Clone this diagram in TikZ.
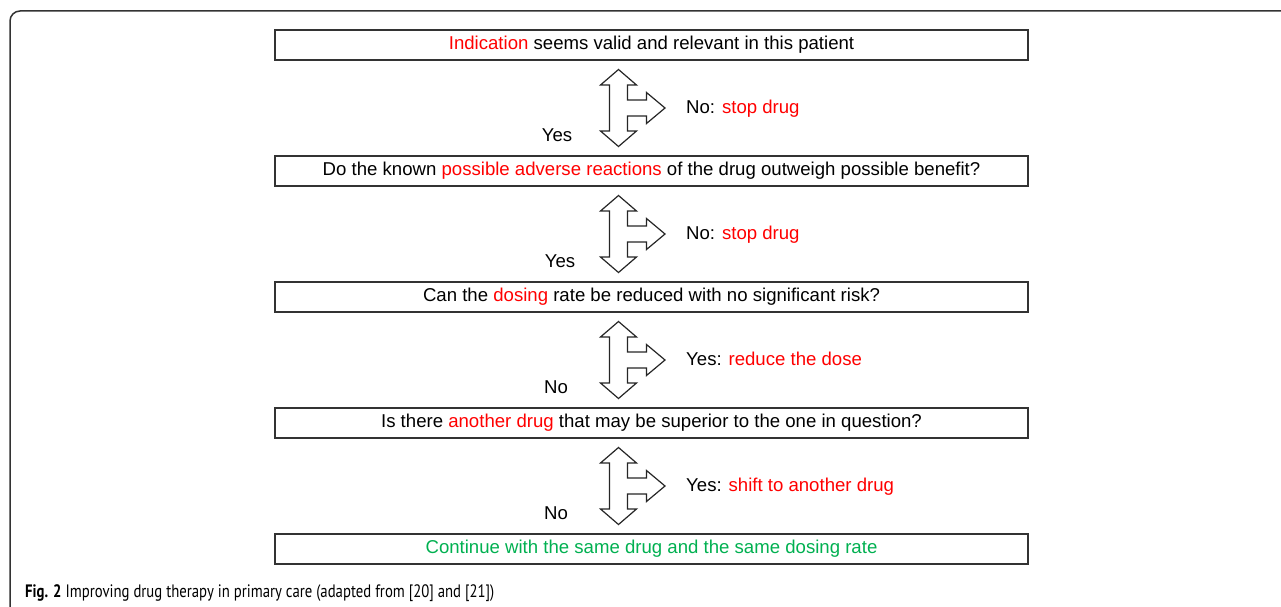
\documentclass[tikz,border=0pt]{standalone}
\usepackage{fontspec}
\setmainfont{Liberation Sans}
\newfontfamily\capfont[FakeStretch=0.82]{PT Sans}
\usetikzlibrary{calc}
\definecolor{alertred}{RGB}{255,0,0}
\definecolor{okgreen}{RGB}{0,176,80}

\begin{document}
\begin{tikzpicture}[x=1pt,y=-1pt,
  qbox/.style={draw=black!80,line width=1.3pt,minimum width=753pt,minimum height=30pt,inner sep=0pt,font=\fontsize{18.6}{22}\selectfont},
  lbl/.style={font=\fontsize{18.6}{22}\selectfont,inner sep=0pt},
  blockarrow/.style={draw=black!85,line width=1.2pt,fill=white,line join=miter}]
\useasboundingbox (0,0) rectangle (1281,607);

% outer frame
\draw[black!80,line width=1.5pt,rounded corners=10pt] (10,620) -- (10,11) -- (1290,11);

% question boxes
\node[qbox] (b1) at (651.5,45) {\textcolor{alertred}{Indication} seems valid and relevant in this patient};
\node[qbox] (b2) at (651.5,171) {Do the known \textcolor{alertred}{possible adverse reactions} of the drug outweigh possible benefit?};
\node[qbox] (b3) at (651.5,297) {Can the \textcolor{alertred}{dosing} rate be reduced with no significant risk?};
\node[qbox] (b4) at (651.5,423) {Is there \textcolor{alertred}{another drug} that may be superior to the one in question?};
\node[qbox] (b5) at (651.5,549) {\textcolor{okgreen}{Continue with the same drug and the same dosing rate}};

% three-way arrows between the boxes
\foreach \i/\j in {1/2,2/3,3/4,4/5} {
  \coordinate (a\i) at ($(b\i.south)!0.5!(b\j.north)+(-33,0)$);
  \draw[blockarrow,shift={(a\i)}] (0,-38.5) -- (18,-23) -- (9,-23) -- (9,-8) -- (28,-8) -- (28,-15.5)
    -- (46.5,0) -- (28,15.5) -- (28,8) -- (9,8) -- (9,23) -- (18,23) -- (0,38.5)
    -- (-18,23) -- (-9,23) -- (-9,-23) -- (-18,-23) -- cycle;
}

% answers
\node[lbl,anchor=base west] (r1) at ($(a1)+(67.5,5.5)$) {No: \textcolor{alertred}{stop drug}};
\node[lbl,anchor=base west] (r2) at ($(a2)+(67.5,5.5)$) {No: \textcolor{alertred}{stop drug}};
\node[lbl,anchor=base west] (r3) at ($(a3)+(67.5,5.5)$) {Yes: \textcolor{alertred}{reduce the dose}};
\node[lbl,anchor=base west] (r4) at ($(a4)+(67.5,5.5)$) {Yes: \textcolor{alertred}{shift to another drug}};
\node[lbl,anchor=base] (l1) at ($(a1)+(-61.5,33.5)$) {Yes};
\node[lbl,anchor=base] (l2) at ($(a2)+(-58.5,33.5)$) {Yes};
\node[lbl,anchor=base] (l3) at ($(a3)+(-62.5,33.5)$) {No};
\node[lbl,anchor=base] (l4) at ($(a4)+(-62.5,33.5)$) {No};

% caption
\node[anchor=base west,inner sep=0pt,font=\capfont\fontsize{18}{21}\selectfont] (cap) at (25,597.5)
  {\textbf{Fig. 2} Improving drug therapy in primary care (adapted from [20] and [21])};
\end{tikzpicture}
\end{document}
